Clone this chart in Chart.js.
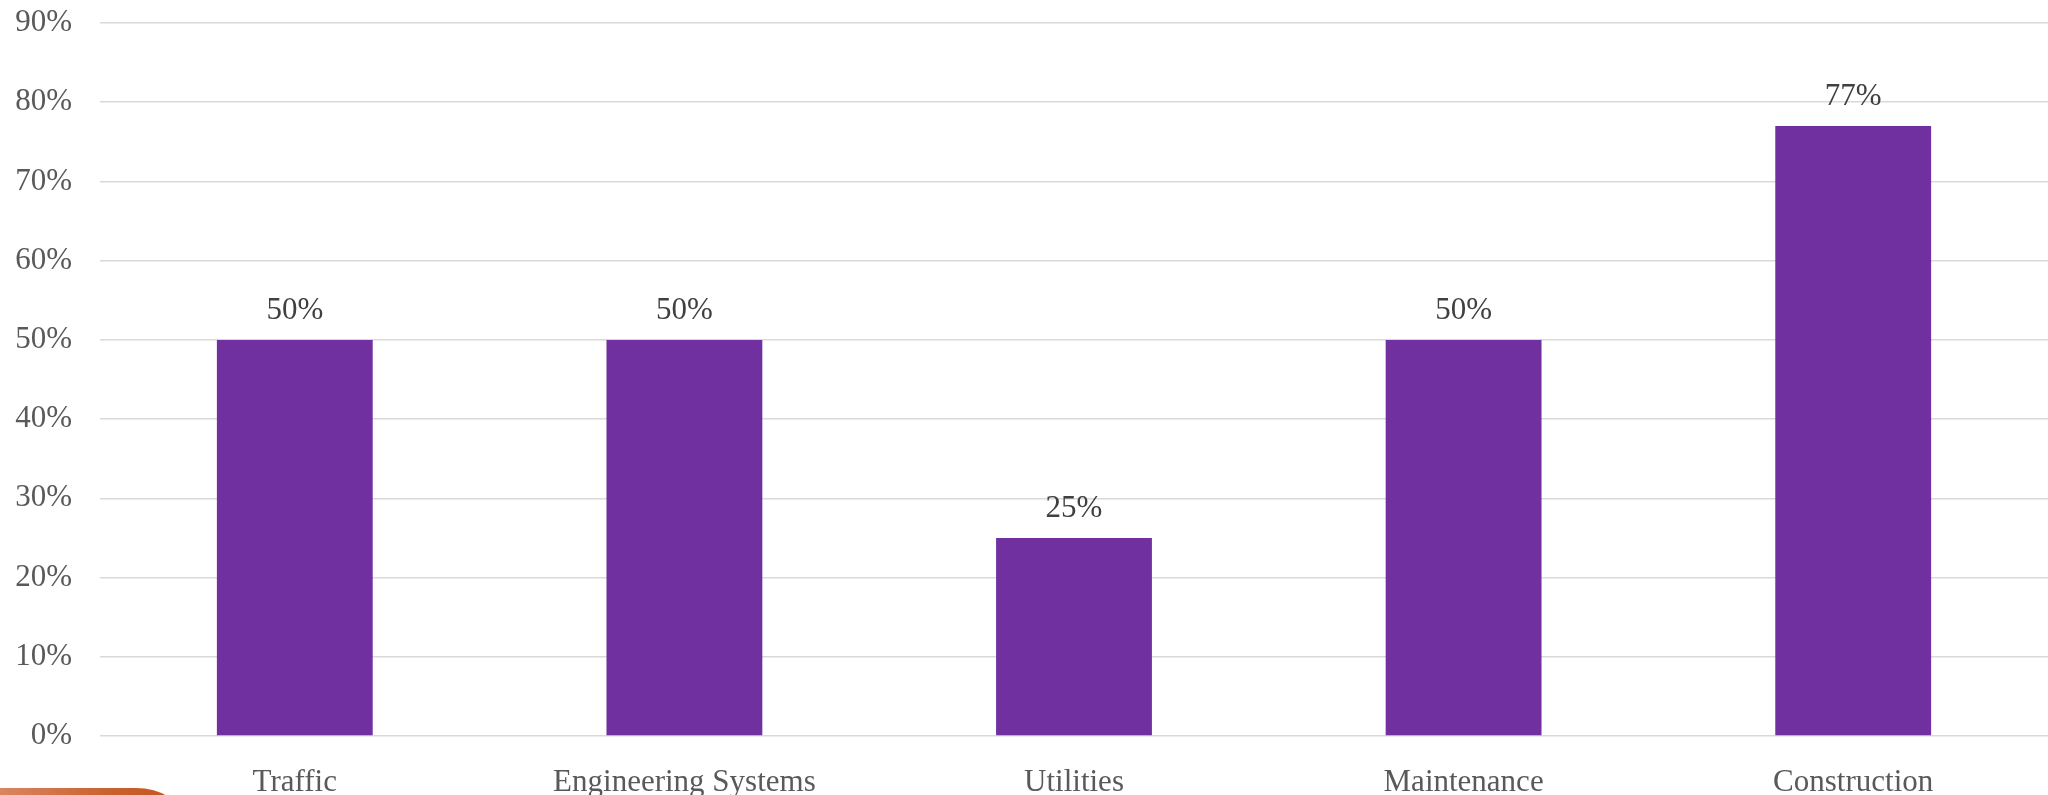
<!DOCTYPE html>
<html>
<head>
<meta charset="utf-8">
<script src="https://cdn.jsdelivr.net/npm/chart.js@4/dist/chart.umd.min.js"></script>
<style>
  html, body { margin: 0; padding: 0; background: #fff; overflow: hidden; }
  #wrap { position: relative; width: 2048px; height: 795px; }
  #deco {
    position: absolute; left: 0; top: 788px; width: 182px; height: 40px;
    border-top-right-radius: 46px 30px;
    background: linear-gradient(90deg, #d98560 0%, #c9612f 60%, #c4541f 100%);
  }
</style>
</head>
<body>
<div id="wrap">
  <canvas id="chart" width="2048" height="795"></canvas>
  <div id="deco"></div>
</div>
<script>
// departments and their share
const categories = ['Traffic', 'Engineering Systems', 'Utilities', 'Maintenance', 'Construction'];
const shares = [0.50, 0.50, 0.25, 0.50, 0.77];
const yMax = 0.9;
const yStep = 0.1;

const FONT = 'Liberation Serif, Times New Roman, serif';

// draw the % above each bar
const barLabels = {
  id: 'barLabels',
  afterDatasetsDraw(chart) {
    const ctx = chart.ctx;
    const meta = chart.getDatasetMeta(0);
    ctx.save();
    ctx.font = '31px ' + FONT;
    ctx.fillStyle = '#404040';
    ctx.textAlign = 'center';
    ctx.textBaseline = 'alphabetic';
    meta.data.forEach((bar, i) => {
      ctx.fillText(Math.round(shares[i] * 100) + '%', bar.x, bar.y - 21);
    });
    ctx.restore();
  }
};

new Chart(document.getElementById('chart'), {
  type: 'bar',
  data: {
    labels: categories,
    datasets: [{
      data: shares,
      backgroundColor: '#7030a0',
      barPercentage: 0.4,
      categoryPercentage: 1.0
    }]
  },
  options: {
    responsive: false,
    animation: false,
    layout: { padding: { top: 23, right: 0, bottom: 0, left: 0 } },
    plugins: { legend: { display: false }, tooltip: { enabled: false } },
    scales: {
      x: {
        grid: { display: false },
        border: { display: false },
        ticks: { color: '#595959', font: { family: FONT, size: 31 }, padding: 20, maxRotation: 0, autoSkip: false },
        afterFit(s) { s.height = 59; s.paddingLeft = 0; s.paddingRight = 0; }
      },
      y: {
        min: 0,
        max: yMax,
        grid: { color: '#d9d9d9', lineWidth: 1.5, drawTicks: false },
        border: { display: false },
        ticks: {
          stepSize: yStep,
          color: '#595959',
          font: { family: FONT, size: 31 },
          padding: 28,
          callback: v => Math.round(v * 100) + '%'
        },
        afterFit(s) { s.width = 100; s.paddingTop = 0; s.paddingBottom = 0; }
      }
    }
  },
  plugins: [barLabels]
});
</script>
</body>
</html>
